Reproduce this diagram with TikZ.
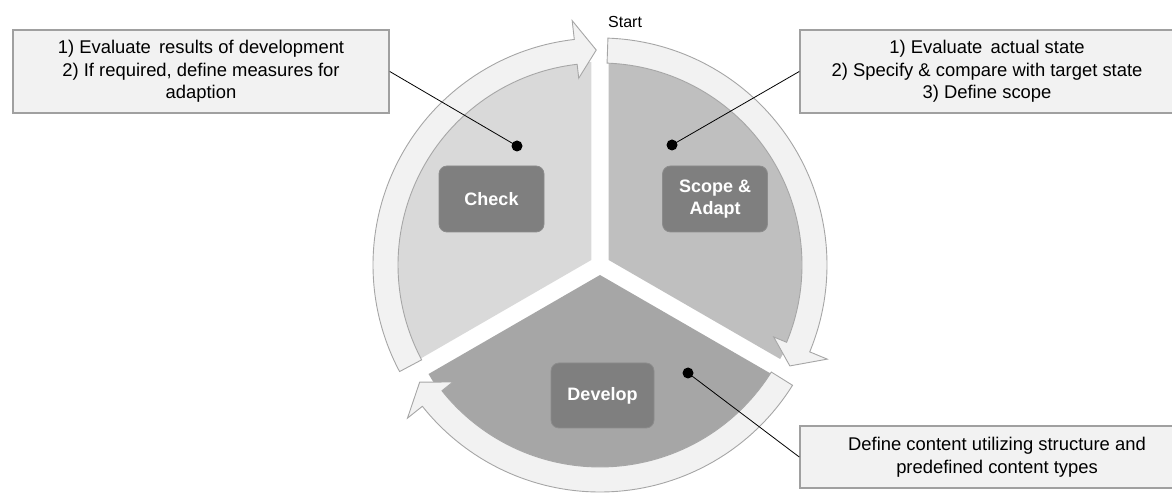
\documentclass[tikz,border=0pt]{standalone}
\usepackage{fontspec}
\setmainfont{Liberation Sans}
\usetikzlibrary{calc}

\definecolor{ringfill}{HTML}{F2F2F2}
\definecolor{ringline}{HTML}{A6A6A6}
\definecolor{checkfill}{HTML}{D9D9D9}
\definecolor{scopefill}{HTML}{BFBFBF}
\definecolor{devfill}{HTML}{A6A6A6}
\definecolor{phasefill}{HTML}{7F7F7F}
\definecolor{phaseline}{HTML}{8C8C8C}
\definecolor{notefill}{HTML}{F2F2F2}
\definecolor{noteline}{HTML}{A0A0A0}

\begin{document}
\begin{tikzpicture}[x=1pt,y=1pt,
  ringseg/.style={fill=ringfill, draw=ringline, line width=0.9pt, line join=miter},
  phase/.style={rectangle, rounded corners=8pt, fill=phasefill, draw=phaseline,
    line width=0.8pt, minimum width=105pt, minimum height=66pt, inner sep=0pt,
    text=white, align=center, font=\bfseries\fontsize{18}{22}\selectfont},
  note/.style={rectangle, fill=notefill, draw=noteline, line width=1.5pt,
    inner sep=0pt, align=center, font=\fontsize{18.4}{22.5}\selectfont},
  pin/.style={circle, fill=black, inner sep=0pt, minimum size=11pt},
  lead/.style={draw=black, line width=0.8pt}]

\useasboundingbox (0,0) rectangle (1172,495);
\clip (0,0) rectangle (1172,495);

% pie sectors, each pushed out along its bisector, and the cycle arrows
\begin{scope}[shift={(600,230)}]
  \fill[checkfill] (150:10pt) -- ++(90:198pt)
    arc[start angle=90, end angle=210, radius=198pt] -- cycle;
  \fill[scopefill] (30:10pt) -- ++(-30:198pt)
    arc[start angle=-30, end angle=90, radius=198pt] -- cycle;
  \fill[devfill] (270:10pt) -- ++(210:198pt)
    arc[start angle=210, end angle=330, radius=198pt] -- cycle;

  \path[ringseg] (208:227pt) arc[start angle=208, end angle=96.5, radius=227pt]
    -- (96.5:246pt) -- (91:215pt) -- (96.5:188pt) -- (96.5:202pt)
    arc[start angle=96.5, end angle=208, radius=202pt] -- cycle;
  \path[ringseg] (88:227pt) arc[start angle=88, end angle=-22.5, radius=227pt]
    -- (-22.5:246pt) -- (-28:215pt) -- (-22.5:188pt) -- (-22.5:202pt)
    arc[start angle=-22.5, end angle=88, radius=202pt] -- cycle;
  \path[ringseg] (-32:227pt) arc[start angle=-32, end angle=-141.5, radius=227pt]
    -- (-141.5:246pt) -- (-147:215pt) -- (-141.5:188pt) -- (-141.5:202pt)
    arc[start angle=-141.5, end angle=-32, radius=202pt] -- cycle;
\end{scope}

\node[anchor=west, inner sep=0pt, font=\fontsize{16}{19}\selectfont] (start) at (608,473) {Start};

% phase labels
\node[phase] (check) at (491.5,296) {Check};
\node[phase] (scope) at (715,296) {Scope \&\\Adapt};
\node[phase, minimum width=103pt, minimum height=65pt] (develop) at (602.5,99.5) {Develop};

% callout boxes
\node[note, minimum width=376pt, minimum height=83pt] (checknote) at (201,423.5)
  {1) Evaluate\hspace{3pt} results of development\\2) If required, define measures for\\adaption};
\node[note, minimum width=374pt, minimum height=83pt] (scopenote) at (987,423.5)
  {1) Evaluate\hspace{3pt} actual state\\2) Specify \& compare with target state\\3) Define scope};
\node[note, minimum width=394pt, minimum height=62pt] (devnote) at (997,38)
  {Define content utilizing structure and\\predefined content types};

% anchor dots and leader lines
\node[pin] (checkdot) at (517,349) {};
\node[pin] (scopedot) at (672,350) {};
\node[pin] (devdot) at (688,122) {};
\draw[lead] (checknote.east) -- (checkdot.center);
\draw[lead] (scopenote.west) -- (scopedot.center);
\draw[lead] (devnote.west) -- (devdot.center);
\end{tikzpicture}
\end{document}
